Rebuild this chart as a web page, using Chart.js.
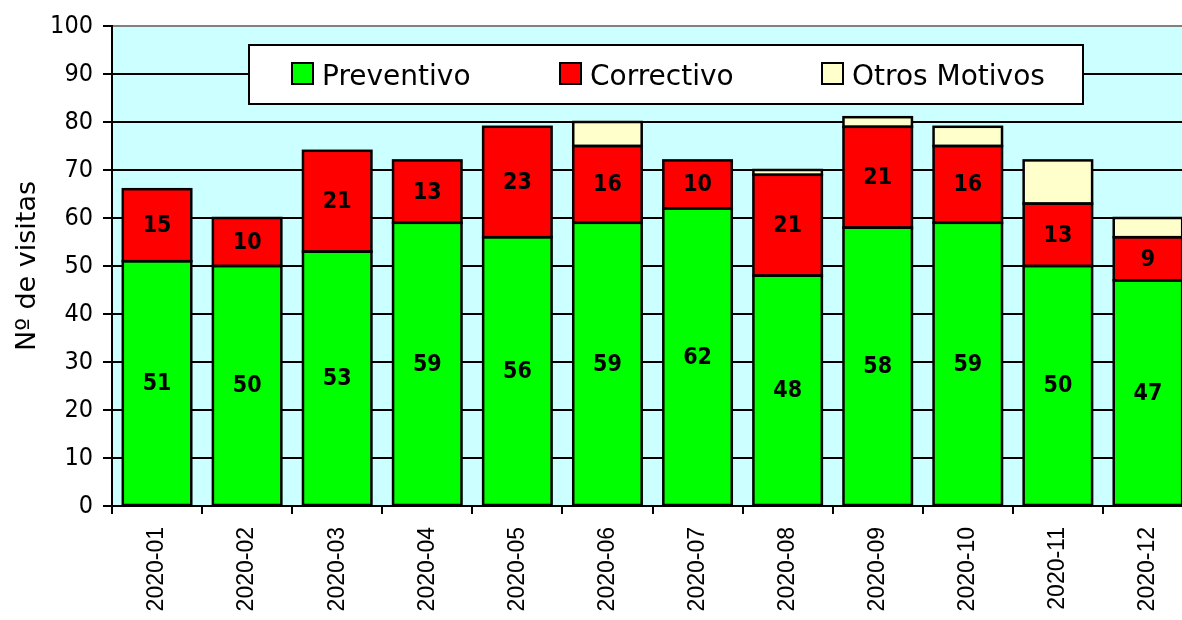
<!DOCTYPE html>
<html>
<head>
<meta charset="utf-8">
<script src="https://cdn.jsdelivr.net/npm/chart.js@4/dist/chart.umd.min.js"></script>
<style>
  html, body { margin: 0; padding: 0; background: #fff; overflow: hidden; }
  #wrap { width: 1193px; height: 620px; position: relative; }
</style>
</head>
<body>
<div id="wrap"><canvas id="c"></canvas></div>
<script>
const categories = ['2020-01','2020-02','2020-03','2020-04','2020-05','2020-06','2020-07','2020-08','2020-09','2020-10','2020-11','2020-12'];
const preventivo = [51, 50, 53, 59, 56, 59, 62, 48, 58, 59, 50, 47];
const correctivo = [15, 10, 21, 13, 23, 16, 10, 21, 21, 16, 13, 9];
const otros      = [0, 0, 0, 0, 0, 5, 0, 1, 2, 4, 9, 4];
const seriesNames = ['Preventivo', 'Correctivo', 'Otros Motivos'];
const seriesColors = ['#00FF00', '#FF0000', '#FFFFCC'];
const yTitle = 'Nº de visitas';

const bgPlugin = {
  id: 'bg',
  beforeDraw(chart) {
    const a = chart.chartArea, ctx = chart.ctx;
    ctx.save();
    ctx.fillStyle = '#CCFFFF';
    ctx.fillRect(a.left, a.top, a.right - a.left, a.bottom - a.top);
    ctx.restore();
  }
};

const borderPlugin = {
  id: 'barBorders',
  afterDatasetsDraw(chart) {
    const ctx = chart.ctx;
    ctx.save();
    ctx.strokeStyle = '#000';
    ctx.lineWidth = 2.5;
    chart.data.datasets.forEach((ds, di) => {
      const meta = chart.getDatasetMeta(di);
      meta.data.forEach((bar, i) => {
        if (!ds.data[i]) return;
        const p = bar.getProps(['x', 'y', 'base', 'width'], true);
        const left = p.x - p.width / 2;
        const top = Math.min(p.y, p.base);
        const h = Math.abs(p.base - p.y);
        ctx.strokeRect(left, top, p.width, h);
      });
    });
    ctx.restore();
  }
};

const labelPlugin = {
  id: 'vals',
  afterDatasetsDraw(chart) {
    const ctx = chart.ctx;
    ctx.save();
    ctx.font = 'bold 23px "DejaVu Sans Condensed", "DejaVu Sans"';
    ctx.fillStyle = '#000';
    ctx.textAlign = 'center';
    ctx.textBaseline = 'middle';
    [0, 1].forEach(di => {
      const meta = chart.getDatasetMeta(di);
      meta.data.forEach((bar, i) => {
        const v = chart.data.datasets[di].data[i];
        if (!v) return;
        ctx.fillText(String(v), bar.x, (bar.y + bar.base) / 2 + 1);
      });
    });
    ctx.restore();
  }
};

const legendPlugin = {
  id: 'boxLegend',
  afterDraw(chart) {
    const ctx = chart.ctx;
    const x0 = 249, y0 = 45, x1 = 1083, y1 = 104;
    ctx.save();
    ctx.fillStyle = '#fff';
    ctx.fillRect(x0, y0, x1 - x0, y1 - y0);
    ctx.lineWidth = 2;
    ctx.strokeStyle = '#000';
    ctx.strokeRect(x0, y0, x1 - x0, y1 - y0);
    const sq = [292, 560, 822];
    const widths = [150, 148, 195];
    ctx.font = '28px "DejaVu Sans"';
    ctx.textBaseline = 'alphabetic';
    ctx.textAlign = 'left';
    seriesNames.forEach((n, i) => {
      ctx.fillStyle = seriesColors[i];
      ctx.fillRect(sq[i], 63, 21, 21);
      ctx.lineWidth = 2;
      ctx.strokeRect(sq[i], 63, 21, 21);
      ctx.fillStyle = '#000';
      ctx.fillText(n, sq[i] + 30, 85, widths[i]);
    });
    ctx.restore();
  }
};

new Chart(document.getElementById('c'), {
  type: 'bar',
  data: {
    labels: categories,
    datasets: [preventivo, correctivo, otros].map((d, i) => ({
      label: seriesNames[i],
      data: d,
      backgroundColor: seriesColors[i],
      borderWidth: 0,
      categoryPercentage: 1,
      barPercentage: 0.76
    }))
  },
  options: {
    responsive: true,
    maintainAspectRatio: false,
    animation: false,
    layout: { padding: { top: 26, right: 0, left: 0, bottom: 0 } },
    plugins: { legend: { display: false }, tooltip: { enabled: false } },
    scales: {
      x: {
        stacked: true,
        offset: true,
        afterFit(s) { s.height = 114; },
        grid: { offset: true, drawOnChartArea: false, drawTicks: true, tickLength: 8, color: '#000', lineWidth: 2 },
        border: { display: true, color: '#000', width: 2 },
        ticks: {
          minRotation: 90, maxRotation: 90, autoSkip: false,
          padding: 13,
          color: '#000',
          font: { family: '"Liberation Sans", Arial', size: 23 }
        }
      },
      y: {
        stacked: true,
        min: 0, max: 100,
        afterFit(s) { s.width = 112; },
        grid: {
          color: c => (c.tick && c.tick.value === 100) ? '#808080' : '#000',
          tickColor: '#000',
          lineWidth: 2,
          tickLength: 9
        },
        border: { display: true, color: '#000', width: 2 },
        ticks: {
          stepSize: 10,
          padding: 10,
          color: '#000',
          font: { family: '"DejaVu Sans Condensed", "DejaVu Sans"', size: 25 }
        },
        title: {
          display: true,
          text: yTitle,
          color: '#000',
          padding: { top: 12, bottom: 0 },
          font: { family: '"DejaVu Sans"', size: 27 }
        }
      }
    }
  },
  plugins: [bgPlugin, borderPlugin, labelPlugin, legendPlugin]
});
</script>
</body>
</html>
